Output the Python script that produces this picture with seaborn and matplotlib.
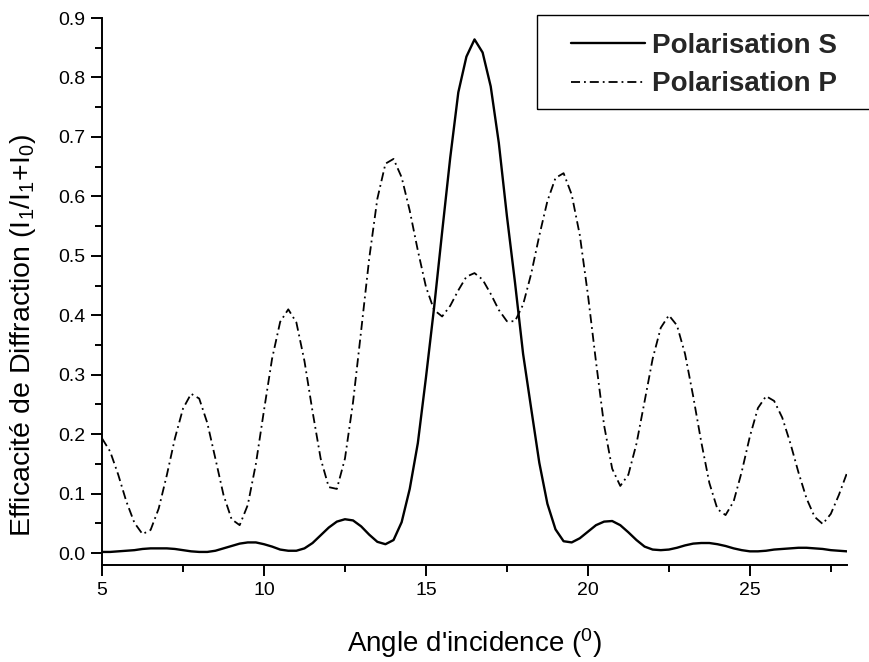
import numpy as np
import matplotlib
matplotlib.use("Agg")
import matplotlib.pyplot as plt
from matplotlib.patches import Rectangle
from matplotlib.ticker import MultipleLocator, FormatStrFormatter
import seaborn as sns

# Angle of incidence grid (degrees), 0.25 deg sampling from 5 to 28
angle = np.arange(5.0, 28.0 + 0.125, 0.25)

# Diffraction efficiency, S polarisation
eff_s = [
    0.002, 0.002, 0.003, 0.004,   # 5
    0.005, 0.007, 0.008, 0.008,   # 6
    0.008, 0.007, 0.005, 0.003,   # 7
    0.002, 0.002, 0.004, 0.008,   # 8
    0.012, 0.016, 0.018, 0.018,   # 9
    0.015, 0.011, 0.006, 0.004,   # 10
    0.004, 0.008, 0.017, 0.030,   # 11
    0.043, 0.053, 0.057, 0.055,   # 12
    0.045, 0.031, 0.019, 0.015,   # 13
    0.022, 0.052, 0.108, 0.185,   # 14
    0.295, 0.412, 0.540, 0.665,   # 15
    0.775, 0.835, 0.864, 0.842,   # 16
    0.785, 0.690, 0.567, 0.455,   # 17
    0.335, 0.243, 0.152, 0.083,   # 18
    0.040, 0.020, 0.018, 0.025,   # 19
    0.036, 0.047, 0.053, 0.054,   # 20
    0.047, 0.035, 0.022, 0.011,   # 21
    0.006, 0.005, 0.006, 0.009,   # 22
    0.013, 0.016, 0.017, 0.017,   # 23
    0.015, 0.012, 0.008, 0.005,   # 24
    0.003, 0.003, 0.004, 0.006,   # 25
    0.007, 0.008, 0.009, 0.009,   # 26
    0.008, 0.007, 0.005, 0.004,   # 27
    0.003,                        # 28
]

# Diffraction efficiency, P polarisation
eff_p = [
    0.193, 0.171, 0.132, 0.087,   # 5
    0.051, 0.032, 0.039, 0.075,   # 6
    0.131, 0.193, 0.243, 0.268,   # 7
    0.260, 0.219, 0.159, 0.098,   # 8
    0.057, 0.047, 0.081, 0.150,   # 9
    0.240, 0.327, 0.389, 0.410,   # 10
    0.388, 0.323, 0.238, 0.159,   # 11
    0.111, 0.108, 0.159, 0.254,   # 12
    0.374, 0.496, 0.596, 0.655,   # 13
    0.663, 0.632, 0.576, 0.509,   # 14
    0.448, 0.409, 0.398, 0.416,   # 15
    0.442, 0.465, 0.471, 0.460,   # 16
    0.436, 0.409, 0.390, 0.390,   # 17
    0.418, 0.470, 0.534, 0.592,   # 18
    0.631, 0.639, 0.603, 0.535,   # 19
    0.435, 0.322, 0.215, 0.142,   # 20
    0.113, 0.132, 0.184, 0.255,   # 21
    0.327, 0.379, 0.400, 0.383,   # 22
    0.335, 0.264, 0.187, 0.118,   # 23
    0.074, 0.064, 0.087, 0.137,   # 24
    0.196, 0.244, 0.264, 0.256,   # 25
    0.228, 0.185, 0.136, 0.092,   # 26
    0.061, 0.049, 0.066, 0.098,   # 27
    0.135,                        # 28
]

series_labels = ["Polarisation S", "Polarisation P"]
y_ticks = [0.0, 0.1, 0.2, 0.3, 0.4, 0.5, 0.6, 0.7, 0.8, 0.9]
x_ticks = [5, 10, 15, 20, 25]

sns.set_style("ticks")
plt.rcParams["font.family"] = ["Liberation Sans", "DejaVu Sans"]
plt.rcParams["mathtext.default"] = "regular"
plt.rcParams["axes.linewidth"] = 1.4

fig = plt.figure(figsize=(8.69, 6.62), dpi=100)
ax = fig.add_axes([0.1174, 0.1465, 0.8573, 0.8263])

sns.lineplot(x=angle, y=eff_s, ax=ax, color="black", linewidth=1.7,
             label=series_labels[0], estimator=None, sort=False)
sns.lineplot(x=angle, y=eff_p, ax=ax, color="black", linewidth=1.3,
             label=series_labels[1], estimator=None, sort=False,
             dashes=False)
ax.lines[1].set_dashes((5.0, 2.2, 1.0, 2.2))

ax.set_xlim(5, 28)
ax.set_ylim(-0.02, 0.9)
ax.set_xticks(x_ticks)
ax.set_yticks(y_ticks)
ax.yaxis.set_major_formatter(FormatStrFormatter("%.1f"))
ax.xaxis.set_minor_locator(MultipleLocator(2.5))
ax.yaxis.set_minor_locator(MultipleLocator(0.05))
ax.tick_params(which="major", direction="out", length=8, width=1.4,
               labelsize=14, color="black", labelcolor="black", pad=4)
ax.tick_params(which="minor", direction="out", length=5, width=1.4,
               color="black")
sns.despine(ax=ax)
for side in ("left", "bottom"):
    ax.spines[side].set_color("black")

ax.set_xlabel("Angle d'incidence ($^0$)", fontsize=20, color="black")
ax.set_ylabel("Efficacité de Diffraction (I$_1$/I$_1$+I$_0$)", fontsize=20.5,
              color="black")
ax.xaxis.set_label_coords(0.5, -0.112)
ax.yaxis.set_label_coords(-0.086, 0.42)

leg = ax.legend(loc="center left", bbox_to_anchor=(571 / 869, 1 - 65 / 662),
                bbox_transform=fig.transFigure, frameon=False,
                prop={"weight": "bold", "size": 20}, handlelength=2.66,
                handletextpad=0.25, labelspacing=0.45, borderpad=0,
                borderaxespad=0)
for h in leg.get_lines():
    h.set_color("black")
fig.patches.append(Rectangle((537 / 869, 1 - 109 / 662), 0.5, 94 / 662,
                             transform=fig.transFigure, fill=False,
                             edgecolor="black", linewidth=1.0))

fig.savefig("out.png", dpi=100, facecolor="white")
